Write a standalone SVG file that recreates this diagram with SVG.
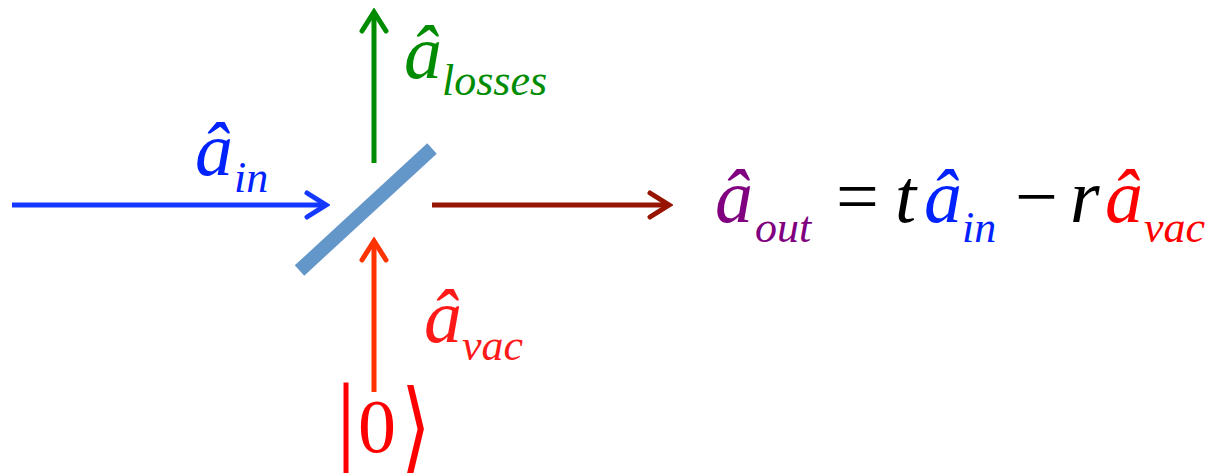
<svg xmlns="http://www.w3.org/2000/svg" width="1211" height="474" viewBox="0 0 1211 474">
<style>
text{font-family:'Liberation Serif','Times New Roman',serif}
.m{font-style:italic;font-size:76px}
.s{font-style:italic;font-size:44px}
.u{font-size:76px}
.ln{fill:none;stroke-width:5}
</style>
<defs>
<marker id="ab" markerUnits="userSpaceOnUse" viewBox="-24 -16 28 32" refX="0" refY="0" markerWidth="28" markerHeight="32" orient="auto"><path d="M-19,-12 L0,0 L-19,12" fill="none" stroke="#1438ff" stroke-width="5" stroke-linecap="round"/></marker>
<marker id="ag" markerUnits="userSpaceOnUse" viewBox="-24 -16 28 32" refX="0" refY="0" markerWidth="28" markerHeight="32" orient="auto"><path d="M-19,-12 L0,0 L-19,12" fill="none" stroke="#008c00" stroke-width="5" stroke-linecap="round"/></marker>
<marker id="ad" markerUnits="userSpaceOnUse" viewBox="-24 -16 28 32" refX="0" refY="0" markerWidth="28" markerHeight="32" orient="auto"><path d="M-19,-12 L0,0 L-19,12" fill="none" stroke="#961400" stroke-width="5" stroke-linecap="round"/></marker>
<marker id="ar" markerUnits="userSpaceOnUse" viewBox="-24 -16 28 32" refX="0" refY="0" markerWidth="28" markerHeight="32" orient="auto"><path d="M-19,-12 L0,0 L-19,12" fill="none" stroke="#ff3300" stroke-width="5" stroke-linecap="round"/></marker>
</defs>
<g id="connectors">
<line class="ln" x1="12" y1="205" x2="326" y2="205" stroke="#1438ff" marker-end="url(#ab)"/>
<line class="ln" x1="374" y1="163" x2="374" y2="12" stroke="#008c00" marker-end="url(#ag)"/>
<line class="ln" x1="432" y1="205" x2="669" y2="205" stroke="#961400" marker-end="url(#ad)"/>
<line class="ln" x1="374" y1="392" x2="374" y2="241" stroke="#ff3300" marker-end="url(#ar)"/>
</g>
<g id="mirror">
<line x1="299.5" y1="270.5" x2="432" y2="148.5" stroke="#6497c9" stroke-width="14"/>
</g>
<g id="a-in" fill="#0022ff">
<text class="m" x="195" y="175">â</text>
<text class="s" x="234" y="192">in</text>
</g>
<g id="a-losses" fill="#008c00">
<text class="m" x="404" y="78">â</text>
<text class="s" x="442" y="95">losses</text>
</g>
<g id="a-vac" fill="#ff1a1a">
<text class="m" x="424" y="342">â</text>
<text class="s" x="462" y="360">vac</text>
</g>
<g id="vacuum" fill="#ff0000">
<text class="u" x="336" y="452"><tspan font-size="100">|</tspan><tspan dx="2">0</tspan></text>
<text class="u" transform="translate(401,460) scale(1,1.3)">⟩</text>
</g>
<g id="equation">
<text class="m" x="715" y="222" fill="#800080">â</text>
<text class="s" x="755" y="242" fill="#800080">out</text>
<text class="u" x="836" y="222" fill="#000">=</text>
<text class="m" x="895" y="222" fill="#000">t</text>
<text class="m" x="924" y="222" fill="#0022ff">â</text>
<text class="s" x="962" y="242" fill="#0022ff">in</text>
<text class="u" x="1015" y="222" fill="#000">−</text>
<text class="m" x="1070" y="222" fill="#000">r</text>
<text class="m" x="1105" y="222" fill="#ff0000">â</text>
<text class="s" x="1144" y="242" fill="#ff0000">vac</text>
</g>
</svg>
